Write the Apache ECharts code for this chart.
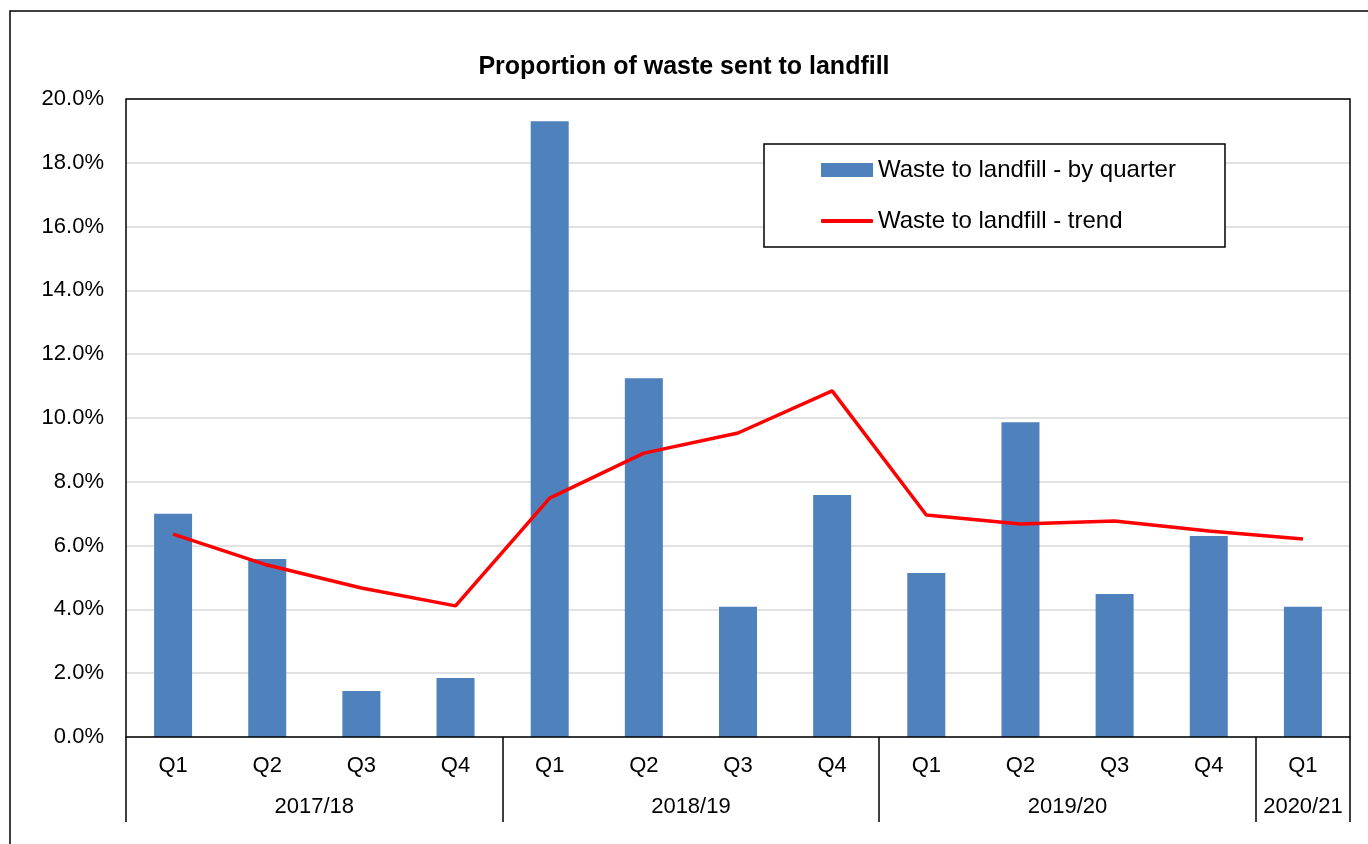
<!DOCTYPE html>
<html>
<head>
<meta charset="utf-8">
<script src="https://cdn.jsdelivr.net/npm/echarts@6/dist/echarts.min.js"></script>
<style>
  html, body { margin: 0; padding: 0; background: #fff; }
  #main { width: 1368px; height: 844px; }
</style>
</head>
<body>
<div id="main"></div>
<script>
var quarters = ["Q1", "Q2", "Q3", "Q4", "Q1", "Q2", "Q3", "Q4", "Q1", "Q2", "Q3", "Q4", "Q1"];
var years = ["2017/18", "2018/19", "2019/20", "2020/21"];
var yearQuarters = [4, 4, 4, 1];
var byQuarter = [7.0, 5.58, 1.44, 1.85, 19.3, 11.25, 4.08, 7.59, 5.14, 9.87, 4.48, 6.3, 4.08];
var trend = [6.36, 5.39, 4.67, 4.11, 7.49, 8.9, 9.53, 10.85, 6.96, 6.68, 6.77, 6.46, 6.21];

// year boundaries and centres on a 0..n value scale
var bounds = [0];
var centres = [];
yearQuarters.forEach(function (n) {
  var start = bounds[bounds.length - 1];
  centres.push(start + n / 2);
  bounds.push(start + n);
});

var font = "'Liberation Sans', Arial, sans-serif";
var legendText = { fontFamily: font, fontSize: 24, lineHeight: 24, color: "#000" };
var chart = echarts.init(document.getElementById("main"));

chart.setOption({
  animation: false,
  textStyle: { fontFamily: font },
  title: {
    text: "Proportion of waste sent to landfill",
    left: "center",
    top: 50,
    textStyle: { fontFamily: font, fontSize: 25, fontWeight: "bold", color: "#000" }
  },
  graphic: [
    {
      type: "polyline",
      shape: { points: [[10, 900], [10, 11], [1400, 11]] },
      style: { stroke: "#000", lineWidth: 1.5, fill: null }
    },
    {
      type: "rect",
      z: 3,
      shape: { x: 764, y: 144, width: 461, height: 103 },
      style: { stroke: "#000", lineWidth: 1.5, fill: "#fff" }
    }
  ],
  legend: [
    {
      left: 821,
      top: 158,
      padding: 0,
      itemWidth: 52,
      itemHeight: 14,
      textStyle: legendText,
      data: [{ name: "Waste to landfill - by quarter", icon: "rect" }]
    },
    {
      left: 821,
      top: 209,
      padding: 0,
      itemWidth: 52,
      itemHeight: 4,
      textStyle: legendText,
      data: [{ name: "Waste to landfill - trend", icon: "roundRect" }]
    }
  ],
  grid: {
    left: 126,
    top: 99,
    width: 1224,
    height: 638,
    show: true,
    borderColor: "#000",
    borderWidth: 1.5,
    z: 10
  },
  xAxis: [
    {
      type: "category",
      data: quarters,
      axisLine: { show: false },
      axisTick: { show: false },
      axisLabel: { fontSize: 22, color: "#000", margin: 18, interval: 0 }
    },
    {
      type: "value",
      min: 0,
      max: quarters.length,
      position: "bottom",
      axisLine: { show: false },
      splitLine: { show: false },
      axisTick: {
        show: true,
        customValues: bounds,
        length: 85,
        lineStyle: { color: "#000", width: 1.5 }
      },
      axisLabel: {
        customValues: centres,
        fontSize: 22,
        color: "#000",
        margin: 59,
        formatter: function (v) {
          return years[centres.indexOf(v)];
        }
      }
    }
  ],
  yAxis: {
    type: "value",
    min: 0,
    max: 20,
    interval: 2,
    axisLine: { show: false },
    axisTick: { show: false },
    splitLine: { lineStyle: { color: "#d9d9d9", width: 1.5 } },
    axisLabel: {
      fontSize: 22,
      color: "#000",
      margin: 22,
      formatter: function (v) { return v.toFixed(1) + "%"; }
    }
  },
  series: [
    {
      name: "Waste to landfill - by quarter",
      type: "bar",
      data: byQuarter,
      barWidth: 38,
      itemStyle: { color: "#4f81bd" }
    },
    {
      name: "Waste to landfill - trend",
      type: "line",
      data: trend,
      symbol: "none",
      lineStyle: { color: "#ff0000", width: 3.5 },
      itemStyle: { color: "#ff0000" }
    }
  ]
});
</script>
</body>
</html>
